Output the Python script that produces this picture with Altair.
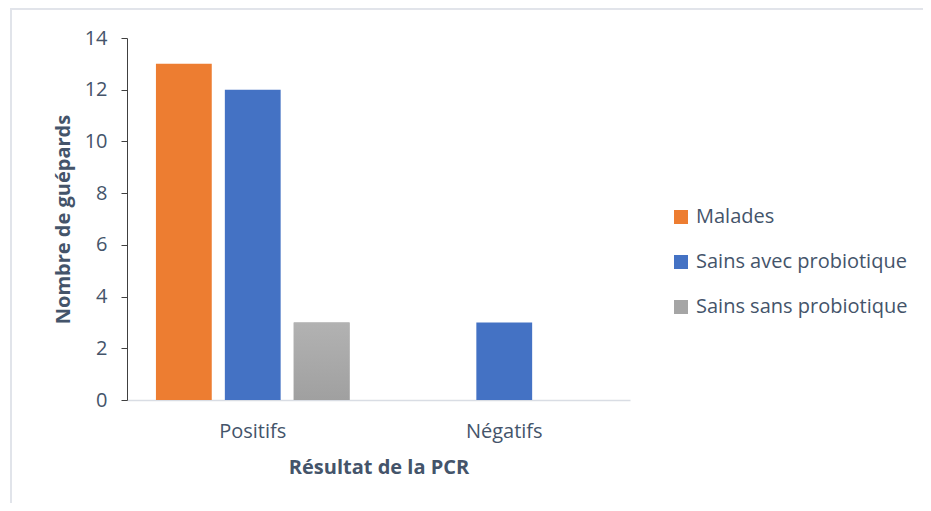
import altair as alt
import pandas as pd

categories = ["Positifs", "Négatifs"]
series = ["Malades", "Sains avec probiotique", "Sains sans probiotique"]
malades = [13, 0]
sains_avec = [12, 3]
sains_sans = [3, 0]
colors = ["#ED7D31", "#4472C4", "#A5A5A5"]
y_ticks = [0, 2, 4, 6, 8, 10, 12, 14]

rows = []
for name, vals in zip(series, [malades, sains_avec, sains_sans]):
    for c, v in zip(categories, vals):
        rows.append({"PCR": c, "Groupe": name, "Nombre": v})
df = pd.DataFrame(rows)

FONT = "Open Sans"
TXT = "#44546A"
FS = 20

x_enc = alt.X("PCR:N", sort=categories, scale=alt.Scale(paddingInner=0, paddingOuter=0),
              axis=alt.Axis(title="Résultat de la PCR", labelAngle=0, ticks=False,
                            domainColor="#D9DDE4", domainWidth=1.5, labelPadding=21,
                            titlePadding=16))
xoff_enc = alt.XOffset("Groupe:N", sort=series,
                       scale=alt.Scale(domain=series, paddingInner=0.19, paddingOuter=0.42))
y_enc = alt.Y("Nombre:Q", scale=alt.Scale(domain=[0, 14]),
              axis=alt.Axis(title="Nombre de guépards", values=y_ticks, grid=False,
                            domainColor="#404040", tickColor="#404040", tickSize=6,
                            labelPadding=14, titlePadding=11))

bars = alt.Chart(df).mark_bar().encode(
    x=x_enc,
    xOffset=xoff_enc,
    y=y_enc,
    color=alt.Color("Groupe:N", sort=series,
                    scale=alt.Scale(domain=series, range=colors),
                    legend=alt.Legend(title=None, orient="none", legendX=544, legendY=169,
                                      symbolType="square", symbolSize=196,
                                      symbolStrokeWidth=0, rowPadding=25,
                                      labelOffset=5, padding=0)),
)

gray_grad = alt.Gradient(
    gradient="linear", x1=0, x2=0, y1=0, y2=1,
    stops=[alt.GradientStop(color="#B2B2B2", offset=0),
           alt.GradientStop(color="#A0A0A0", offset=1)],
)
gray = alt.Chart(df).transform_filter(
    alt.datum.Groupe == "Sains sans probiotique"
).mark_bar(color=gray_grad).encode(x=x_enc, xOffset=xoff_enc, y=y_enc)

border_top = alt.Chart(df).mark_rule(color="#E1E4EA", strokeWidth=2).encode(
    x=alt.value(-116), x2=alt.value(820), y=alt.value(-29.5))
border_left = alt.Chart(df).mark_rule(color="#E1E4EA", strokeWidth=2).encode(
    x=alt.value(-116), y=alt.value(-29.5), y2=alt.value(480))

chart = alt.layer(border_top, border_left, bars, gray).properties(
    width=503, height=362,
    autosize=alt.AutoSizeParams(type="none"),
    padding={"left": 119, "top": 30, "right": 293, "bottom": 103},
).configure_view(stroke=None).configure_axis(
    labelFont=FONT, titleFont=FONT, labelColor=TXT, titleColor=TXT,
    labelFontSize=FS, titleFontSize=FS, titleFontWeight="bold",
).configure_legend(
    labelFont=FONT, labelFontSize=FS, labelColor=TXT, labelLimit=400,
)

chart.save("out.html", embed_options={"renderer": "svg", "actions": False})
